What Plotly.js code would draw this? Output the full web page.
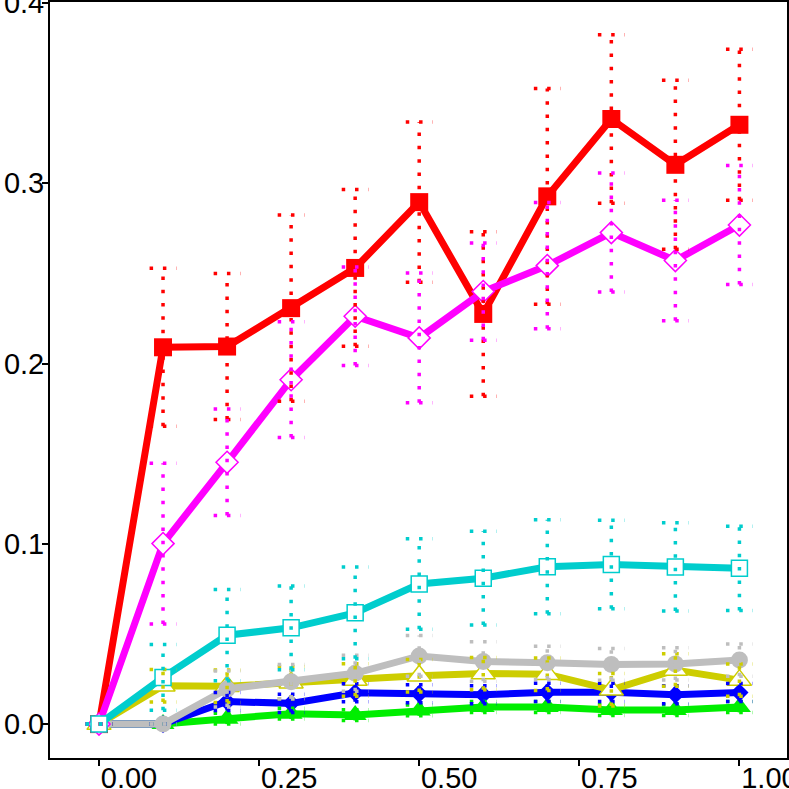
<!DOCTYPE html>
<html>
<head>
<meta charset="utf-8">
<script src="https://cdn.plot.ly/plotly-3.0.1.min.js"></script>
<style>
  html, body { margin: 0; padding: 0; background: #fff; }
  #chart { width: 789px; height: 789px; }
</style>
</head>
<body>
<div id="chart"></div>
<script>
// x positions shared by every series
const xs = [0, 0.1, 0.2, 0.3, 0.4, 0.5, 0.6, 0.7, 0.8, 0.9, 1.0];

// means and half-widths of the error bars
const redY   = [0, 0.209, 0.2094, 0.2307, 0.253, 0.2895, 0.2275, 0.2927, 0.3356, 0.3102, 0.3324];
const redE   = [0, 0.0438, 0.0405, 0.0517, 0.0435, 0.0445, 0.0456, 0.0598, 0.0467, 0.0469, 0.0419];
const magY   = [0, 0.1001, 0.1452, 0.191, 0.2262, 0.2142, 0.2399, 0.2543, 0.2726, 0.2571, 0.2768];
const magE   = [0, 0.0446, 0.0295, 0.0321, 0.0273, 0.036, 0.027, 0.035, 0.033, 0.0334, 0.033];
const cyanY  = [0, 0.0259, 0.0493, 0.0534, 0.0617, 0.0777, 0.0809, 0.0873, 0.0885, 0.0872, 0.0864];
const cyanE  = [0, 0.0182, 0.0253, 0.0232, 0.0255, 0.0251, 0.026, 0.0261, 0.0245, 0.0245, 0.0234];
const yelY   = [0, 0.0213, 0.021, 0.023, 0.0245, 0.0268, 0.028, 0.0277, 0.019, 0.03, 0.0244];
const yelE   = [0, 0.009, 0.009, 0.009, 0.009, 0.009, 0.009, 0.009, 0.009, 0.009, 0.009];
const grayY  = [0, 0, 0.0195, 0.0235, 0.0282, 0.0378, 0.0347, 0.034, 0.0331, 0.0334, 0.0355];
const grayE  = [0, 0, 0.01, 0.0095, 0.01, 0.0113, 0.011, 0.0092, 0.0088, 0.0089, 0.0089];
const blueY  = [0, 0, 0.0125, 0.0115, 0.0174, 0.0168, 0.0163, 0.0176, 0.0176, 0.0163, 0.0175];
const blueE  = [0, 0, 0.005, 0.005, 0.005, 0.005, 0.005, 0.005, 0.005, 0.005, 0.005];
const greenY = [0, 0, 0.003, 0.0058, 0.005, 0.0076, 0.0095, 0.0095, 0.0078, 0.0078, 0.0095];
const greenE = [0, 0, 0.003, 0.003, 0.003, 0.003, 0.003, 0.003, 0.003, 0.003, 0.003];

const xTicks = [0, 0.25, 0.5, 0.75, 1.0];
const xTickText = ['0.00', '0.25', '0.50', '0.75', '1.00'];
const yTicks = [0, 0.1, 0.2, 0.3, 0.4];
const yTickText = ['0.0', '0.1', '0.2', '0.3', '0.4'];

const capHalf = 0.021;   // cap half-width in x units
const lineW = 7;

function lineTrace(y, color, symbol, size, open) {
  return {
    type: 'scatter', mode: 'lines+markers', x: xs, y: y,
    line: { color: color, width: lineW },
    marker: {
      symbol: symbol, size: size,
      color: open ? '#ffffff' : color,
      line: { color: color, width: open ? 1.5 : 0 }
    },
    hoverinfo: 'none', showlegend: false
  };
}

// dotted error bars as one trace of broken segments
function errTrace(y, e, color) {
  const ex = [], ey = [];
  xs.forEach((x, i) => {
    const lo = y[i] - e[i], hi = y[i] + e[i];
    ex.push(x, x, null, x - capHalf, x + capHalf, null, x - capHalf, x + capHalf, null);
    ey.push(lo, hi, null, hi, hi, null, lo, lo, null);
  });
  return {
    type: 'scatter', mode: 'lines', x: ex, y: ey,
    line: { color: color, width: 3.5, dash: '3.5px,9.8px' },
    connectgaps: false, hoverinfo: 'none', showlegend: false
  };
}

const red = '#ff0000', mag = '#ff00ff', cyan = '#00cdcd', yel = '#cdcd00',
      gray = '#bebebe', blue = '#0000ff', green = '#00ee00';

// stacking order bottom -> top as seen in the picture
const data = [
  lineTrace(greenY, green, 'triangle-up', 20, false),
  lineTrace(blueY, blue, 'diamond', 14, false),
  lineTrace(yelY, yel, 'triangle-up', 21, true),
  lineTrace(grayY, gray, 'circle', 17, false),
  lineTrace(redY, red, 'square', 18, false),
  lineTrace(magY, mag, 'diamond', 17, true),
  lineTrace(cyanY, cyan, 'square', 16, true),
  errTrace(greenY, greenE, green),
  errTrace(blueY, blueE, blue),
  errTrace(yelY, yelE, yel),
  errTrace(grayY, grayE, gray),
  errTrace(redY, redE, red),
  errTrace(magY, magE, mag),
  errTrace(cyanY, cyanE, cyan)
];

const axisBase = {
  showgrid: false, zeroline: false,
  showline: true, mirror: true, linecolor: '#000', linewidth: 2,
  ticks: 'outside', ticklen: 6, tickwidth: 2, tickcolor: '#000',
  tickfont: { family: 'Liberation Sans, Arial, sans-serif', size: 29, color: '#000' },
  tickmode: 'array', ticklabeloverflow: 'allow'
};

const layout = {
  width: 789, height: 789,
  margin: { l: 50, r: 2, t: 2, b: 31 },
  paper_bgcolor: '#fff', plot_bgcolor: '#fff',
  xaxis: Object.assign({}, axisBase, {
    range: [-0.0765, 1.0743],
    tickvals: xTicks, ticktext: xTickText,
    ticklabelshift: 30, ticklabelstandoff: -13
  }),
  yaxis: Object.assign({}, axisBase, {
    range: [-0.0188, 0.4005],
    tickvals: yTicks, ticktext: yTickText,
    ticklabelstandoff: -8
  })
};

Plotly.newPlot('chart', data, layout, { displayModeBar: false, staticPlot: true });
</script>
</body>
</html>
